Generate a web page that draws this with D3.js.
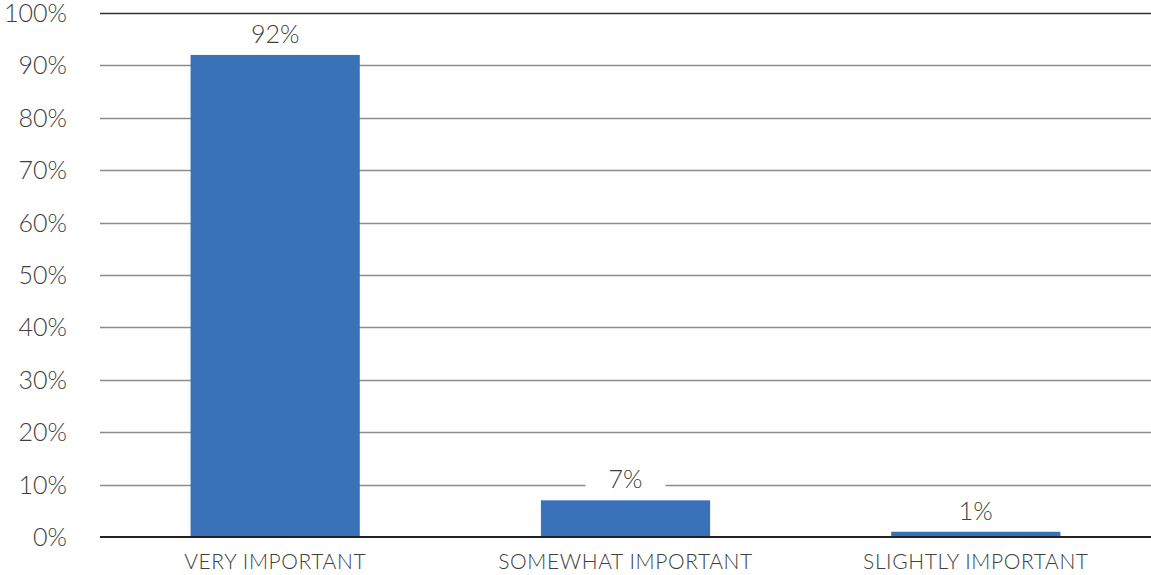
<!DOCTYPE html>
<html><head><meta charset="utf-8">
<script src="https://cdn.jsdelivr.net/npm/d3@7"></script>
<style>body{margin:0;background:#fff}svg{display:block}text{font-family:"Lato","Noto Sans",sans-serif;font-weight:300}</style>
</head><body><svg id="c" width="1151" height="575"></svg>
<script>
const categories = ["VERY IMPORTANT","SOMEWHAT IMPORTANT","SLIGHTLY IMPORTANT"];
const values = [92, 7, 1];
const yTicks = [0,10,20,30,40,50,60,70,80,90,100];

const svg = d3.select("#c");
const m = {l:100, r:0, t:13, b:38};
const W = 1151, H = 575;
const x = d3.scaleBand().domain(categories).range([m.l, W-m.r]).paddingInner(0.517).paddingOuter(0.2585);
const y = d3.scaleLinear().domain([0,100]).range([H-m.b, m.t]);

svg.append("g").selectAll("line").data(yTicks.filter(d=>d>0)).join("line")
  .attr("x1", m.l).attr("x2", W-m.r)
  .attr("y1", d=>Math.round(y(d))+0.5).attr("y2", d=>Math.round(y(d))+0.5)
  .attr("stroke", d=> d===100 ? "#333" : "#8c8c8c").attr("stroke-width", 1.3);

svg.append("g").selectAll("text").data(yTicks).join("text")
  .attr("x", 67).attr("y", d=>y(d)).attr("dy","0.36em")
  .attr("text-anchor","end").attr("font-size",25).attr("fill","#404040")
  .text(d=>d+"%");

svg.append("g").selectAll("rect").data(values).join("rect")
  .attr("x",(d,i)=>x(categories[i])).attr("width",x.bandwidth())
  .attr("y",d=>y(d)).attr("height",d=>y(0)-y(d)).attr("fill","#3a72b9");

svg.append("line").attr("x1",m.l).attr("x2",W).attr("y1",y(0)).attr("y2",y(0))
  .attr("stroke","#222").attr("stroke-width",2);

const lg = svg.append("g").selectAll("g").data(values).join("g")
  .attr("transform",(d,i)=>`translate(${x(categories[i])+x.bandwidth()/2},${y(d)-21})`);
lg.append("rect").attr("x",-40).attr("width",80).attr("y",-16).attr("height",30).attr("fill","#fff");
lg.append("text").attr("text-anchor","middle").attr("dy","0.36em").attr("font-size",25)
  .attr("fill","#404040").text(d=>d+"%");

svg.append("g").selectAll("text").data(categories).join("text")
  .attr("x",d=>x(d)+x.bandwidth()/2).attr("y",569)
  .attr("text-anchor","middle").attr("font-size",21).attr("fill","#404040")
  .style("letter-spacing","0.6px").text(d=>d);
</script></body></html>
